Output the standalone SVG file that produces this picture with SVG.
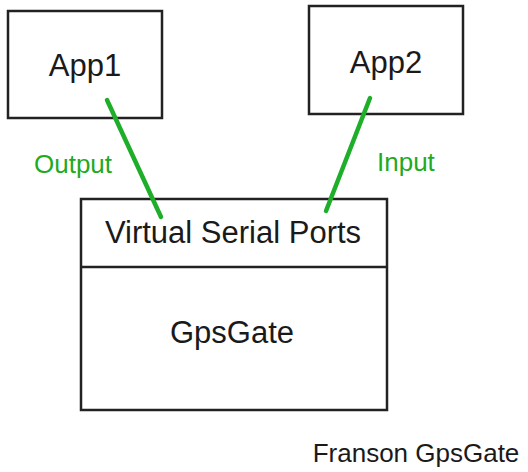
<svg xmlns="http://www.w3.org/2000/svg" width="528" height="472" viewBox="0 0 528 472">
<style>
.box{fill:#fff;stroke:#222;stroke-width:2.5}
.t{font-family:"Liberation Sans",Arial,sans-serif;fill:#1a1a1a;text-anchor:middle}
.g{font-family:"Liberation Sans",Arial,sans-serif;fill:#1faa1f}
.c{stroke:#1fae2a;stroke-width:4.5;stroke-linecap:round}
</style>
<rect width="528" height="472" fill="#fff"/>
<g id="app1">
<rect class="box" x="8" y="11" width="154" height="107"/>
<text class="t" x="85" y="76" font-size="31">App1</text>
</g>
<g id="app2">
<rect class="box" x="309" y="6" width="154" height="108"/>
<text class="t" x="386" y="73" font-size="31">App2</text>
</g>
<g id="gpsgate">
<rect class="box" x="81" y="199" width="306" height="211"/>
<line x1="81" y1="267" x2="387" y2="267" stroke="#222" stroke-width="2.5"/>
<text class="t" x="233" y="243" font-size="31">Virtual Serial Ports</text>
<text class="t" x="232" y="343" font-size="31">GpsGate</text>
</g>
<g id="connectors">
<line class="c" x1="107" y1="100" x2="161" y2="217"/>
<line class="c" x1="370" y1="98" x2="326" y2="211"/>
<text class="g" x="34" y="173" font-size="26">Output</text>
<text class="g" x="377" y="171" font-size="26">Input</text>
</g>
<text class="t" x="416" y="462" font-size="26">Franson GpsGate</text>
</svg>
